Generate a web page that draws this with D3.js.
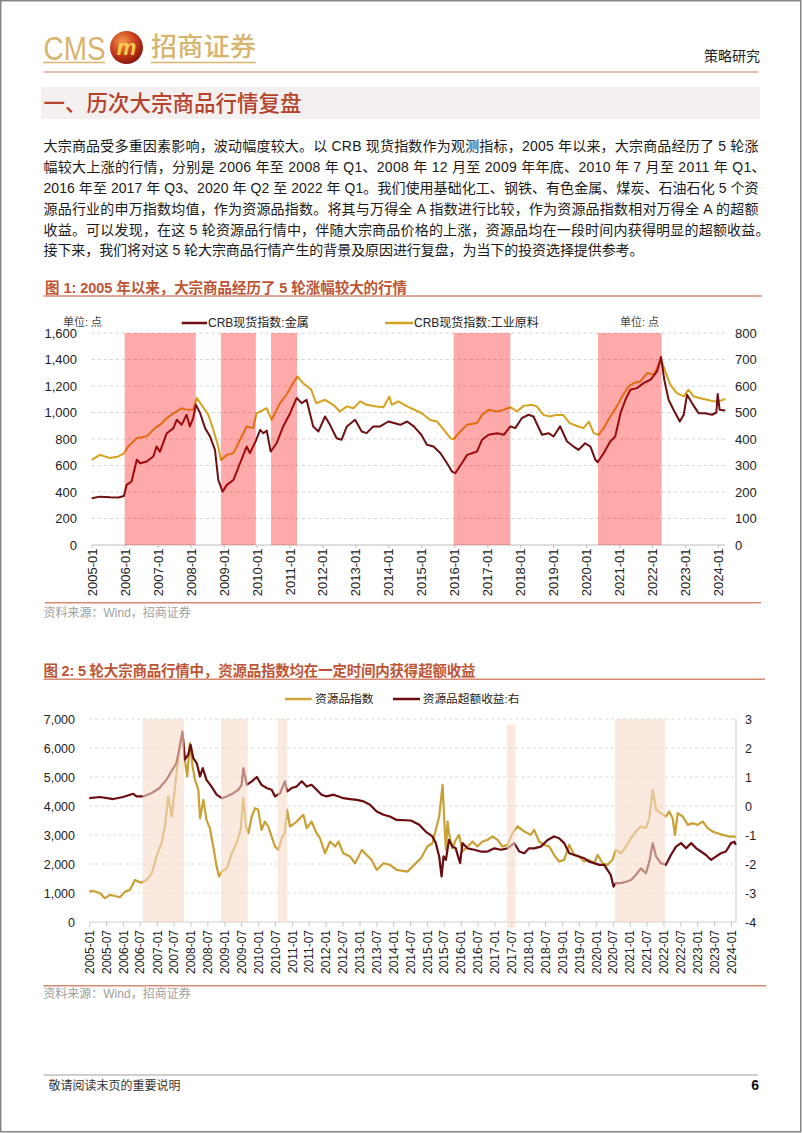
<!DOCTYPE html>
<html><head><meta charset="utf-8">
<script src="https://cdn.jsdelivr.net/npm/d3@7"></script>
<style>
html,body{margin:0;padding:0;background:#fff;}
svg{display:block;}
text{font-family:"Liberation Sans","Noto Sans CJK SC",sans-serif;}
</style></head><body>
<svg id="page" width="802" height="1133"></svg>
<script>
// ---------------- DATA ----------------
// Chart 1: CRB spot index (decimal years)
const metalT = [2005.00,2005.25,2005.56,2005.81,2005.98,2006.06,2006.21,2006.37,2006.47,2006.67,
2006.87,2006.97,2007.07,2007.28,2007.48,2007.58,2007.73,2007.88,2007.98,2008.08,
2008.16,2008.29,2008.44,2008.59,2008.74,2008.84,2008.97,2009.10,2009.30,2009.50,
2009.70,2009.80,2009.97,2010.11,2010.21,2010.31,2010.43,2010.61,2010.81,2011.02,
2011.22,2011.37,2011.52,2011.72,2011.88,2012.08,2012.23,2012.43,2012.58,2012.74,
2012.99,2013.19,2013.34,2013.54,2013.75,2014.00,2014.25,2014.36,2014.57,2014.77,
2015.00,2015.17,2015.37,2015.58,2015.78,2015.93,2016.03,2016.23,2016.39,2016.69,
2016.84,2017.04,2017.30,2017.50,2017.70,2017.85,2018.05,2018.25,2018.40,2018.66,
2018.86,2019.01,2019.21,2019.42,2019.62,2019.77,2019.97,2020.13,2020.28,2020.35,
2020.53,2020.73,2020.88,2021.04,2021.19,2021.34,2021.54,2021.74,2021.95,2022.15,
2022.27,2022.37,2022.50,2022.65,2022.84,2022.96,2023.06,2023.21,2023.41,2023.61,
2023.82,2023.95,2023.99,2024.05,2024.22];
const metalV = [353,365,360,358,370,454,479,643,617,630,
668,743,705,844,882,945,907,983,895,958,
1058,995,882,819,718,491,403,454,491,617,
743,693,781,869,844,864,705,768,895,995,
1110,1071,1096,895,857,970,907,806,794,895,
945,857,844,895,895,932,915,907,932,895,
832,756,743,693,617,554,542,617,680,706,
794,832,844,832,895,882,958,983,970,832,
844,819,895,781,743,718,768,743,643,625,
693,781,819,995,1096,1172,1184,1222,1247,1310,
1420,1247,1096,1021,932,983,1134,1071,995,995,
983,1000,1140,1021,1015];
const indT = [2005.00,2005.25,2005.56,2005.81,2005.98,2006.10,2006.37,2006.67,2006.92,2007.07,
2007.28,2007.48,2007.73,2007.90,2008.08,2008.19,2008.33,2008.54,2008.69,2008.84,
2008.92,2009.10,2009.30,2009.50,2009.70,2009.90,2010.00,2010.21,2010.31,2010.46,
2010.71,2010.91,2011.11,2011.24,2011.41,2011.66,2011.81,2012.08,2012.33,2012.53,
2012.74,2012.94,2013.14,2013.34,2013.64,2013.85,2014.03,2014.10,2014.30,2014.57,
2015.00,2015.27,2015.48,2015.68,2015.88,2015.98,2016.18,2016.39,2016.69,2016.84,
2017.04,2017.30,2017.50,2017.70,2017.90,2018.10,2018.35,2018.50,2018.70,2018.90,
2019.10,2019.30,2019.50,2019.70,2019.92,2020.08,2020.23,2020.38,2020.53,2020.73,
2020.93,2021.09,2021.29,2021.44,2021.64,2021.85,2022.05,2022.20,2022.27,2022.40,
2022.55,2022.75,2022.96,2023.10,2023.26,2023.46,2023.67,2023.87,2024.02,2024.22];
const indV = [321,340,328,334,346,371,403,410,441,453,
479,497,516,510,510,555,529,491,435,371,
321,340,346,397,447,441,497,510,516,472,
535,567,611,636,611,586,535,548,529,504,
523,516,542,529,523,520,560,529,542,523,
498,472,466,435,403,399,428,454,460,491,
510,504,510,520,504,525,529,523,491,485,
491,491,460,450,441,466,422,416,441,485,
523,561,599,611,617,649,643,680,699,655,
605,573,561,586,561,554,548,542,542,551];
const rally1 = [[2006.00,2008.16],[2008.92,2009.98],[2010.44,2011.23],[2015.98,2017.70],[2020.36,2022.29]];
const yTicks1L = [0,200,400,600,800,1000,1200,1400,1600];
const yTicks1R = [0,100,200,300,400,500,600,700,800];
const xTicks1 = ["2005-01","2006-01","2007-01","2008-01","2009-01","2010-01","2011-01","2012-01","2013-01","2014-01",
"2015-01","2016-01","2017-01","2018-01","2019-01","2020-01","2021-01","2022-01","2023-01","2024-01"];

// Chart 2: resource index and its excess return
const resT = [2005.00,2005.12,2005.32,2005.46,2005.61,2005.76,2005.91,2006.06,2006.20,2006.35,
2006.45,2006.55,2006.70,2006.85,2006.99,2007.14,2007.24,2007.34,2007.44,2007.51,
2007.59,2007.69,2007.76,2007.83,2007.90,2007.98,2008.06,2008.13,2008.23,2008.28,
2008.38,2008.47,2008.57,2008.67,2008.77,2008.84,2008.92,2009.07,2009.22,2009.36,
2009.48,2009.56,2009.64,2009.71,2009.81,2009.91,2010.00,2010.10,2010.20,2010.30,
2010.40,2010.50,2010.60,2010.70,2010.79,2010.86,2010.94,2011.09,2011.24,2011.34,
2011.44,2011.58,2011.73,2011.83,2011.98,2012.13,2012.28,2012.38,2012.52,2012.72,
2012.87,2013.07,2013.21,2013.36,2013.51,2013.71,2013.90,2014.10,2014.42,2014.62,
2014.82,2015.01,2015.16,2015.26,2015.36,2015.46,2015.51,2015.56,2015.61,2015.65,
2015.75,2015.85,2015.95,2016.05,2016.20,2016.35,2016.49,2016.64,2016.79,2016.94,
2017.09,2017.23,2017.38,2017.53,2017.68,2017.88,2018.07,2018.17,2018.32,2018.47,
2018.62,2018.76,2018.91,2019.06,2019.21,2019.36,2019.50,2019.65,2019.80,2019.95,
2020.05,2020.20,2020.34,2020.49,2020.59,2020.74,2020.89,2021.04,2021.18,2021.33,
2021.48,2021.58,2021.68,2021.78,2021.92,2022.07,2022.17,2022.27,2022.34,2022.42,
2022.57,2022.72,2022.87,2023.01,2023.16,2023.31,2023.45,2023.60,2023.75,2023.95,
2024.14];
const resV = [1048,1071,990,817,933,898,852,1048,1105,1451,
1393,1359,1451,1681,2257,2717,3293,4329,3638,4329,
5192,6171,6516,5595,5020,6171,5365,4905,4559,3581,
4214,3523,3235,2602,1911,1566,1738,1854,2372,2717,
3178,4271,3293,3062,3638,3926,3868,3178,3465,3293,
2947,2602,2487,2890,3062,3868,3293,3408,3581,3696,
3235,3465,3062,2890,2372,2775,2602,2775,2372,2257,
2026,2487,2314,2141,1796,2026,1969,1796,1738,1969,
2199,2602,2717,3178,3638,4732,3523,2487,3465,3062,
2544,2832,3005,2429,2602,2775,2602,2775,2832,2947,
2832,2602,2659,3062,3293,3120,3005,3178,2775,2659,
2602,2314,2084,2141,2659,2314,2257,2084,2141,2026,
2314,2026,1969,2141,2487,2372,2602,2890,3120,3293,
3235,3581,4559,3868,3753,3638,3811,3581,3005,3753,
3638,3350,3408,3350,3465,3235,3120,3062,3005,2947,
2947];
const excT = [2005.00,2005.32,2005.71,2006.00,2006.30,2006.40,2006.59,2006.84,2007.08,2007.28,
2007.43,2007.58,2007.68,2007.76,2007.83,2007.93,2008.00,2008.08,2008.18,2008.28,
2008.36,2008.47,2008.62,2008.77,2008.92,2009.07,2009.26,2009.41,2009.51,2009.56,
2009.66,2009.81,2009.96,2010.10,2010.25,2010.40,2010.50,2010.65,2010.79,2010.86,
2010.99,2011.14,2011.29,2011.44,2011.58,2011.73,2011.88,2012.03,2012.23,2012.38,
2012.52,2012.72,2012.92,2013.12,2013.31,2013.51,2013.71,2013.90,2014.10,2014.52,
2014.77,2014.96,2015.16,2015.26,2015.36,2015.43,2015.49,2015.56,2015.65,2015.75,
2015.85,2015.98,2016.05,2016.20,2016.40,2016.59,2016.79,2016.99,2017.19,2017.38,
2017.58,2017.73,2017.88,2018.02,2018.17,2018.37,2018.57,2018.76,2018.91,2019.06,
2019.21,2019.36,2019.50,2019.65,2019.80,2019.95,2020.10,2020.25,2020.34,2020.44,
2020.52,2020.59,2020.74,2020.89,2021.04,2021.18,2021.33,2021.48,2021.58,2021.68,
2021.78,2021.92,2022.07,2022.22,2022.37,2022.52,2022.67,2022.82,2022.97,2023.11,
2023.26,2023.41,2023.56,2023.70,2023.85,2024.00,2024.10,2024.14];
const excV = [0.27,0.31,0.24,0.31,0.42,0.33,0.33,0.44,0.62,0.90,
1.19,1.48,2.06,2.57,1.60,1.77,2.11,1.65,1.48,1.02,
1.31,0.90,0.67,0.39,0.27,0.33,0.44,0.56,0.73,1.31,
0.73,0.85,1.00,0.73,0.62,0.56,0.33,0.44,0.85,0.50,
0.62,0.67,0.85,0.67,0.73,0.56,0.39,0.33,0.39,0.33,
0.27,0.24,0.21,0.16,0.04,-0.19,-0.30,-0.36,-0.48,-0.50,
-0.65,-0.88,-1.05,-1.28,-1.74,-2.43,-1.74,-1.86,-1.17,-1.40,
-1.46,-1.97,-1.28,-1.46,-1.51,-1.57,-1.57,-1.46,-1.51,-1.46,
-1.28,-1.57,-1.63,-1.46,-1.46,-1.40,-1.17,-1.05,-1.11,-1.28,
-1.63,-1.69,-1.74,-1.80,-1.92,-1.97,-2.03,-2.03,-2.20,-2.38,
-2.78,-2.66,-2.66,-2.61,-2.55,-2.38,-2.15,-2.32,-1.92,-1.28,
-1.74,-1.97,-2.03,-1.69,-1.40,-1.28,-1.46,-1.28,-1.46,-1.57,
-1.69,-1.86,-1.74,-1.63,-1.57,-1.28,-1.23,-1.34];
// rally windows: [start, end, top(right axis), bottom(right axis)]
const rally2 = [[2006.58,2007.81,3,-4],[2008.90,2009.69,3,-4],[2010.58,2010.86,3,-4],[2017.37,2017.61,2.8,-4.2],[2020.57,2022.05,3,-4]];
const yTicks2L = [0,1000,2000,3000,4000,5000,6000,7000];
const yTicks2R = [-4,-3,-2,-1,0,1,2,3];
const xTicks2 = ["2005-01","2005-07","2006-01","2006-07","2007-01","2007-07","2008-01","2008-07","2009-01","2009-07",
"2010-01","2010-07","2011-01","2011-07","2012-01","2012-07","2013-01","2013-07","2014-01","2014-07",
"2015-01","2015-07","2016-01","2016-07","2017-01","2017-07","2018-01","2018-07","2019-01","2019-07",
"2020-01","2020-07","2021-01","2021-07","2022-01","2022-07","2023-01","2023-07","2024-01"];

const paragraph = [
 "大宗商品受多重因素影响，波动幅度较大。以 CRB 现货指数作为观测指标，2005 年以来，大宗商品经历了 5 轮涨",
 "幅较大上涨的行情，分别是 2006 年至 2008 年 Q1、2008 年 12 月至 2009 年年底、2010 年 7 月至 2011 年 Q1、",
 "2016 年至 2017 年 Q3、2020 年 Q2 至 2022 年 Q1。我们使用基础化工、钢铁、有色金属、煤炭、石油石化 5 个资",
 "源品行业的申万指数均值，作为资源品指数。将其与万得全 A 指数进行比较，作为资源品指数相对万得全 A 的超额",
 "收益。可以发现，在这 5 轮资源品行情中，伴随大宗商品价格的上涨，资源品均在一段时间内获得明显的超额收益。",
 "接下来，我们将对这 5 轮大宗商品行情产生的背景及原因进行复盘，为当下的投资选择提供参考。"
];
const paraWidths = [715,722,715,715,726,600];

// ---------------- HELPERS ----------------
function dy(y){const Y=Math.floor(y);const s=Date.UTC(Y,0,1),e=Date.UTC(Y+1,0,1);return new Date(s+(y-Y)*(e-s));}
const pMonth = d3.utcParse("%Y-%m");
const svg = d3.select("#page");
function txt(x,y,s,o={}){
  const t=svg.append("text").attr("x",x).attr("y",y).text(s)
   .attr("font-size",o.size||12).attr("fill",o.fill||"#222");
  if(o.anchor) t.attr("text-anchor",o.anchor);
  if(o.weight) t.attr("font-weight",o.weight);
  if(o.family) t.attr("font-family",o.family);
  if(o.len){t.attr("textLength",o.len).attr("lengthAdjust",o.adj||"spacing");}
  return t;
}
function hline(x1,x2,y,c,w){svg.append("line").attr("x1",x1).attr("x2",x2).attr("y1",y).attr("y2",y).attr("stroke",c).attr("stroke-width",w);}

// ---------------- PAGE FRAME & HEADER ----------------
svg.append("rect").attr("x",0.75).attr("y",0.75).attr("width",800).attr("height",1131)
  .attr("fill","none").attr("stroke","#858585").attr("stroke-width",1.5);

const defs=svg.append("defs");
const rg=defs.append("radialGradient").attr("id","ball").attr("cx","38%").attr("cy","32%").attr("r","75%");
rg.append("stop").attr("offset","0%").attr("stop-color","#F39A48");
rg.append("stop").attr("offset","55%").attr("stop-color","#C9381C");
rg.append("stop").attr("offset","100%").attr("stop-color","#7A1208");

txt(43.5,59.5,"CMS",{size:33,fill:"#D7B56C",len:62,adj:"spacingAndGlyphs",family:"'Liberation Sans Narrow','Liberation Sans',sans-serif"});
svg.append("circle").attr("cx",126.5).attr("cy",47.5).attr("r",16.5).attr("fill","url(#ball)");
txt(126.5,55,"m",{size:22,fill:"#F6CF4A",anchor:"middle",weight:"bold"}).attr("font-style","italic");
txt(151,56,"招商证券",{size:26,fill:"#D7B56C",len:105,weight:500,family:"'Noto Sans CJK SC',sans-serif"});
hline(43,105,62.5,"#D7B56C",1.5);
hline(151,256,62.5,"#D7B56C",1.5);
txt(760,61,"策略研究",{size:14,fill:"#222",anchor:"end",family:"'Noto Sans CJK SC',sans-serif"});
hline(43.5,758,72,"#CF7F6B",1.2);

svg.append("rect").attr("x",41).attr("y",87).attr("width",719).attr("height",32).attr("fill","#F4F0F0");
txt(43.5,111,"一、历次大宗商品行情复盘",{size:21.5,fill:"#B5432B",len:258,weight:500,family:"'Noto Sans CJK SC',sans-serif"});

paragraph.forEach((s,i)=>{
  txt(43.5,151.3+i*20.8,s,{size:14,fill:"#1a1a1a",len:paraWidths[i]});
});

// ---------------- FIGURE 1 ----------------
txt(45,293,"图 1:  2005 年以来，大宗商品经历了 5 轮涨幅较大的行情",{size:14.5,fill:"#BD5535",weight:"bold",len:362});
hline(43.5,762,296,"#D58A74",1.5);

const x1=d3.scaleUtc().domain([dy(2005),dy(2024)]).range([91.7,718]);
const y1L=d3.scaleLinear().domain([0,1600]).range([545,333]);
const y1R=d3.scaleLinear().domain([0,800]).range([545,333]);
const plot1R=725;

yTicks1L.filter(v=>v>0).forEach(v=>{
  svg.append("line").attr("x1",91.7).attr("x2",plot1R).attr("y1",y1L(v)).attr("y2",y1L(v))
   .attr("stroke","#C8C8C8").attr("stroke-width",0.8).attr("stroke-dasharray","3,3");
});
hline(91.7,plot1R,545,"#BDBDBD",1);

function styleAxis(g,size){
  g.select(".domain").remove();
  g.selectAll("text").attr("font-family","'Liberation Sans',Arial,sans-serif").attr("font-size",size).attr("fill","#222");
  g.selectAll(".tick line").attr("stroke","#BDBDBD");
}
const ax1L=svg.append("g").attr("transform","translate(80,0)")
  .call(d3.axisLeft(y1L).tickValues(yTicks1L).tickFormat(d3.format(",")).tickSize(0).tickPadding(3));
styleAxis(ax1L,13);
const ax1R=svg.append("g").attr("transform","translate(732,0)")
  .call(d3.axisRight(y1R).tickValues(yTicks1R).tickFormat(d3.format("d")).tickSize(0).tickPadding(3));
styleAxis(ax1R,13);
const ax1B=svg.append("g").attr("transform","translate(0,545)")
  .call(d3.axisBottom(x1).tickValues(xTicks1.map(pMonth)).tickFormat(d3.utcFormat("%Y-%m")).tickSize(3).tickSizeOuter(0));
styleAxis(ax1B,13);
ax1B.selectAll("text").attr("transform","rotate(-90)").attr("text-anchor","end").attr("x",-3.5).attr("y",0).attr("dy","0.35em");

const ind1 = d3.zip(indT,indV);
const met1 = d3.zip(metalT,metalV);
svg.append("path").datum(ind1).attr("fill","none").attr("stroke","#D6A21C").attr("stroke-width",2).attr("stroke-linejoin","round")
  .attr("d",d3.line().x(d=>x1(dy(d[0]))).y(d=>y1R(d[1])));
svg.append("path").datum(met1).attr("fill","none").attr("stroke","#6E0F12").attr("stroke-width",2).attr("stroke-linejoin","round")
  .attr("d",d3.line().x(d=>x1(dy(d[0]))).y(d=>y1L(d[1])));
svg.append("g").selectAll("rect").data(rally1).join("rect")
  .attr("x",d=>x1(dy(d[0]))).attr("width",d=>x1(dy(d[1]))-x1(dy(d[0])))
  .attr("y",y1L(1600)).attr("height",y1L(0)-y1L(1600))
  .attr("fill","#FF0000").attr("fill-opacity",0.335);

// legend 1
txt(63,325.5,"单位: 点",{size:11,fill:"#444",family:"'Noto Sans CJK SC',sans-serif"});
txt(620,325.5,"单位: 点",{size:11,fill:"#444",family:"'Noto Sans CJK SC',sans-serif"});
hline(181.7,207,323,"#6E0F12",2.5);
txt(208,327,"CRB现货指数:金属",{size:12,fill:"#222"});
hline(385,413,323,"#D6A21C",2.5);
txt(414,327,"CRB现货指数:工业原料",{size:12,fill:"#222"});

hline(45,761,602.7,"#D58A74",1.5);
txt(43.5,616.5,"资料来源：Wind，招商证券",{size:12,fill:"#A0A0A0"});

// ---------------- FIGURE 2 ----------------
txt(43.5,676,"图 2:  5 轮大宗商品行情中，资源品指数均在一定时间内获得超额收益",{size:14.5,fill:"#BD5535",weight:"bold",len:432});
hline(43.5,765,679.3,"#D58A74",1.5);

const x2=d3.scaleUtc().domain([dy(2005),dy(2024)]).range([89.3,731]);
const y2L=d3.scaleLinear().domain([0,7000]).range([922,719]);
const y2R=d3.scaleLinear().domain([-4,3]).range([922,719]);
const plot2R=736;
yTicks2L.filter(v=>v>0).forEach(v=>{
  svg.append("line").attr("x1",89.3).attr("x2",plot2R).attr("y1",y2L(v)).attr("y2",y2L(v))
   .attr("stroke","#CFCFCF").attr("stroke-width",0.8).attr("stroke-dasharray","3,3");
});
hline(89.3,plot2R,922,"#D0D0D0",1);
svg.append("line").attr("x1",plot2R).attr("x2",plot2R).attr("y1",719).attr("y2",922).attr("stroke","#D0D0D0").attr("stroke-width",1.2);

const ax2L=svg.append("g").attr("transform","translate(78,0)")
  .call(d3.axisLeft(y2L).tickValues(yTicks2L).tickFormat(d3.format(",")).tickSize(0).tickPadding(3));
styleAxis(ax2L,12.5);
const ax2R=svg.append("g").attr("transform","translate(742,0)")
  .call(d3.axisRight(y2R).tickValues(yTicks2R).tickFormat(d=>String(d)).tickSize(0).tickPadding(3));
styleAxis(ax2R,12.5);
const ax2B=svg.append("g").attr("transform","translate(0,922)")
  .call(d3.axisBottom(x2).tickValues(xTicks2.map(pMonth)).tickFormat(d3.utcFormat("%Y-%m")).tickSize(5).tickSizeOuter(0));
styleAxis(ax2B,12);
ax2B.selectAll(".tick line").attr("stroke","#C8C8C8");
ax2B.selectAll("text").attr("transform","rotate(-90)").attr("text-anchor","end").attr("x",-8).attr("y",0).attr("dy","0.35em");

const res2=d3.zip(resT,resV);
const exc2=d3.zip(excT,excV);
svg.append("path").datum(res2).attr("fill","none").attr("stroke","#C9A034").attr("stroke-width",2.2).attr("stroke-linejoin","round")
  .attr("d",d3.line().x(d=>x2(dy(d[0]))).y(d=>y2L(d[1])));
svg.append("path").datum(exc2).attr("fill","none").attr("stroke","#6B0D10").attr("stroke-width",2.2).attr("stroke-linejoin","round")
  .attr("d",d3.line().x(d=>x2(dy(d[0]))).y(d=>y2R(d[1])));
svg.append("g").selectAll("rect").data(rally2).join("rect")
  .attr("x",d=>x2(dy(d[0]))).attr("width",d=>x2(dy(d[1]))-x2(dy(d[0])))
  .attr("y",d=>y2R(d[2])).attr("height",d=>y2R(d[3])-y2R(d[2]))
  .attr("fill","#F7DAC8").attr("fill-opacity",0.6);

// legend 2
hline(285,311.7,699,"#D0A63A",2.5);
txt(315,703.2,"资源品指数",{size:11.7,fill:"#222",family:"'Noto Sans CJK SC',sans-serif"});
hline(393,420,699,"#6B0D10",2.5);
txt(422.7,703.2,"资源品超额收益:右",{size:11.7,fill:"#222",family:"'Noto Sans CJK SC',sans-serif"});

hline(43.5,766,985.7,"#D58A74",1.5);
txt(43.3,997.5,"资料来源：Wind，招商证券",{size:12,fill:"#A0A0A0"});

// ---------------- FOOTER ----------------
hline(43.5,758,1075,"#A0A0A0",1.2);
txt(48.6,1089.5,"敬请阅读末页的重要说明",{size:12,fill:"#333",family:"'Noto Sans CJK SC',sans-serif"});
txt(759,1090,"6",{size:14,fill:"#111",anchor:"end",weight:"bold"});
</script>
</body></html>
